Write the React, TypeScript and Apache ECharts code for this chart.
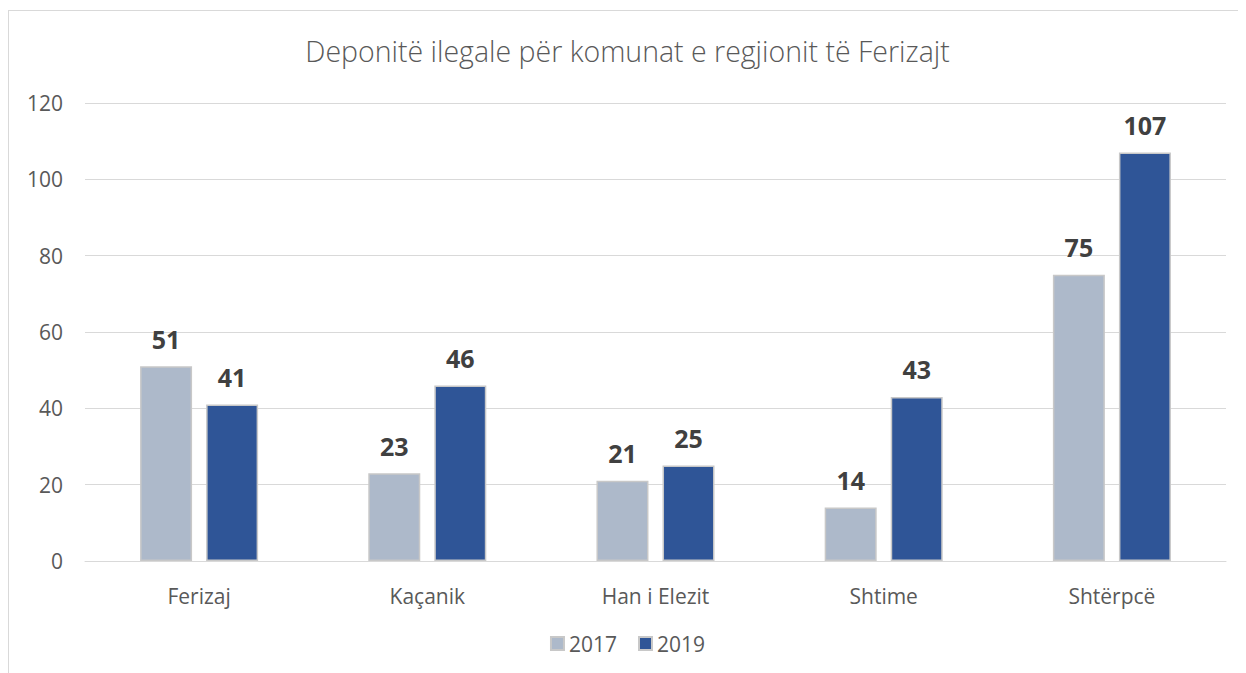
import React, { useEffect, useRef } from "react";
import * as echarts from "echarts";

const categories = ["Ferizaj", "Kaçanik", "Han i Elezit", "Shtime", "Shtërpcë"];
const values2017 = [51, 23, 21, 14, 75];
const values2019 = [41, 46, 25, 43, 107];
const seriesNames = ["2017", "2019"];
const titleText = "Deponitë ilegale për komunat e regjionit të Ferizajt";

const FONT = "'Open Sans', 'Noto Sans', sans-serif";

export default function App() {
  const ref = useRef<HTMLDivElement>(null);
  useEffect(() => {
    if (!ref.current) return;
    const chart = echarts.init(ref.current, undefined, { renderer: "svg" });
    const labelStyle = {
      show: true,
      position: "top" as const,
      distance: 15,
      fontFamily: FONT,
      fontWeight: "bold" as const,
      fontSize: 25,
      color: "#404040",
    };
    chart.setOption({
      animation: false,
      textStyle: { fontFamily: FONT },
      title: {
        text: titleText,
        left: "center",
        top: 20,
        textStyle: { fontFamily: FONT, fontSize: 28.5, fontWeight: 300, color: "#595959" },
      },
      legend: {
        data: seriesNames,
        bottom: 14,
        left: "center",
        icon: "rect",
        itemWidth: 13,
        itemHeight: 13,
        itemGap: 21,
        textStyle: { fontFamily: FONT, fontSize: 21, color: "#595959" },
      },
      grid: { left: 76, right: 20, top: 92, bottom: 112, containLabel: false },
      xAxis: {
        type: "category",
        data: categories,
        axisLine: { lineStyle: { color: "#d9d9d9", width: 1 } },
        axisTick: { show: false },
        axisLabel: { fontFamily: FONT, fontSize: 21, color: "#595959", margin: 24 },
      },
      yAxis: {
        type: "value",
        min: 0,
        max: 120,
        interval: 20,
        axisLine: { show: false },
        axisTick: { show: false },
        splitLine: { lineStyle: { color: "#d9d9d9", width: 1 } },
        axisLabel: { fontFamily: FONT, fontSize: 21, color: "#595959", margin: 22 },
      },
      series: [
        {
          name: seriesNames[0],
          type: "bar",
          data: values2017,
          barWidth: 52,
          barGap: "27%",
          itemStyle: { color: "#adb9ca", borderColor: "#c8c8c8", borderWidth: 1.5 },
          label: labelStyle,
        },
        {
          name: seriesNames[1],
          type: "bar",
          data: values2019,
          barWidth: 52,
          barGap: "27%",
          itemStyle: { color: "#2f5597", borderColor: "#c8c8c8", borderWidth: 1.5 },
          label: labelStyle,
        },
      ],
    });
    return () => chart.dispose();
  }, []);
  return (
    <div
      style={{
        marginTop: 2,
        borderLeft: "1px solid #d9d9d9",
        borderTop: "1px solid #d9d9d9",
        width: 1237,
        height: 662,
      }}
    >
      <div ref={ref} style={{ width: 1237, height: 662 }} />
    </div>
  );
}
